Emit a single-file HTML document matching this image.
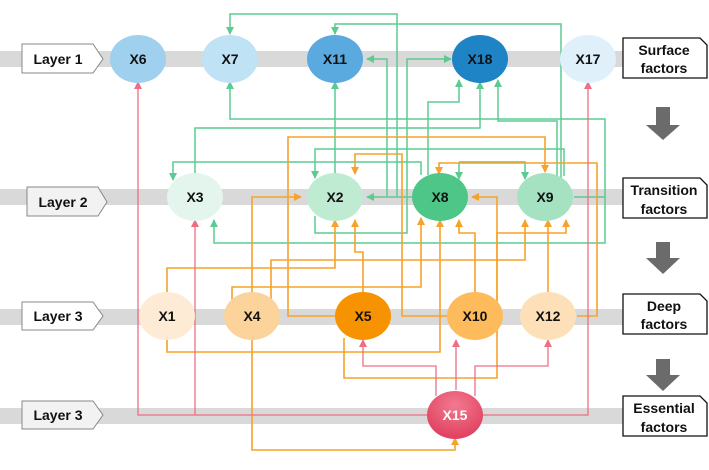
<!DOCTYPE html>
<html><head><meta charset="utf-8"><style>
body{margin:0;background:#fff}
svg{display:block}
text{font-family:"Liberation Sans Narrow","Liberation Sans",sans-serif;font-weight:bold;font-size:14px;text-anchor:middle;dominant-baseline:central;fill:#111}
.g{stroke:#5ccb92;fill:none;stroke-width:1.5}
.o{stroke:#f7a22a;fill:none;stroke-width:1.6}
.r{stroke:#ef6f82;fill:none;stroke-width:1.3}
</style></head><body>
<svg width="709" height="470" viewBox="0 0 709 470">
<defs>
<marker id="ag" markerWidth="8" markerHeight="8" refX="7" refY="4" orient="auto" markerUnits="userSpaceOnUse"><path d="M0,0 L8,4 L0,8z" fill="#5ccb92"/></marker>
<marker id="ao" markerWidth="8" markerHeight="8" refX="7" refY="4" orient="auto" markerUnits="userSpaceOnUse"><path d="M0,0 L8,4 L0,8z" fill="#f7a22a"/></marker>
<marker id="ar" markerWidth="8" markerHeight="8" refX="7" refY="4" orient="auto" markerUnits="userSpaceOnUse"><path d="M0,0 L8,4 L0,8z" fill="#ef6f82"/></marker>
<radialGradient id="rg" cx="0.5" cy="0.3" r="0.7"><stop offset="0" stop-color="#f27a90"/><stop offset="1" stop-color="#e03f5e"/></radialGradient>
</defs>
<!-- bands -->
<rect x="0" y="51" width="625" height="16" fill="#d9d9d9"/>
<rect x="0" y="189" width="625" height="16" fill="#d9d9d9"/>
<rect x="0" y="309" width="625" height="16" fill="#d9d9d9"/>
<rect x="0" y="408" width="625" height="16" fill="#d9d9d9"/>
<!-- left labels -->
<g stroke="#888" stroke-width="1">
<path d="M22,44 H93 L103,59 L93,73 H22z" fill="#fff"/>
<path d="M27,187 H98 L107,202 L98,216 H27z" fill="#f2f2f2"/>
<path d="M22,302 H93 L103,316 L93,330 H22z" fill="#fff"/>
<path d="M22,401 H93 L103,415 L93,429 H22z" fill="#f2f2f2"/>
</g>
<text x="58" y="59">Layer 1</text>
<text x="63" y="202">Layer 2</text>
<text x="58" y="316">Layer 3</text>
<text x="58" y="415">Layer 3</text>
<!-- right labels -->
<g stroke="#111" stroke-width="1.3" fill="#fff">
<path d="M623,38 H700 L707,45 V78 H623z"/>
<path d="M623,178 H700 L707,185 V218 H623z"/>
<path d="M623,294 H700 L707,301 V334 H623z"/>
<path d="M623,396 H700 L707,403 V436 H623z"/>
</g>
<text x="664" y="50">Surface</text><text x="664" y="68">factors</text>
<text x="664" y="190">Transition</text><text x="664" y="209">factors</text>
<text x="664" y="306">Deep</text><text x="664" y="324">factors</text>
<text x="664" y="408">Essential</text><text x="664" y="427">factors</text>
<!-- gray arrows -->
<g fill="#6b6b6b">
<path d="M656,107 H670 V125 H680 L663,140 L646,125 H656z"/>
<path d="M656,242 H670 V258 H680 L663,274 L646,258 H656z"/>
<path d="M656,359 H670 V375 H680 L663,391 L646,375 H656z"/>
</g>
<!-- green -->
<path class="g" d="M397,196 V14 H230 V34" marker-end="url(#ag)"/>
<path class="g" d="M387,196 V59 H367" marker-end="url(#ag)"/>
<path class="g" d="M412,197 H367" marker-end="url(#ag)"/>
<path class="g" d="M561,182 V24 H335 V34" marker-end="url(#ag)"/>
<path class="g" d="M564,176 V149 H315 V178" marker-end="url(#ag)"/>
<path class="g" d="M315,216 V233 H407 V59 H451" marker-end="url(#ag)"/>
<path class="g" d="M428,175 V102 H459 V80" marker-end="url(#ag)"/>
<path class="g" d="M195,175 V128 H480 V82" marker-end="url(#ag)"/>
<path class="g" d="M574,197 H605 V119 H230 V82" marker-end="url(#ag)"/>
<path class="g" d="M605,197 V243 H214 V220" marker-end="url(#ag)"/>
<path class="g" d="M557,178 V121 H498 V80" marker-end="url(#ag)"/>
<path class="g" d="M421,175 V162 H173 V180" marker-end="url(#ag)"/>
<path class="g" d="M459,162 V179" marker-end="url(#ag)"/>
<path class="g" d="M459,162 H525 V179" marker-end="url(#ag)"/>
<path class="g" d="M335,175 V82" marker-end="url(#ag)"/>
<!-- orange -->
<path class="o" d="M335,316 H288 V137 H545 V172" marker-end="url(#ao)"/>
<path class="o" d="M448,316 H402 V154 H355 V174" marker-end="url(#ao)"/>
<path class="o" d="M577,316 H597 V163 H439 V174" marker-end="url(#ao)"/>
<path class="o" d="M252,295 V197 H301" marker-end="url(#ao)"/>
<path class="o" d="M497,300 V197 H472" marker-end="url(#ao)"/>
<path class="o" d="M167,294 V268 H335 V220" marker-end="url(#ao)"/>
<path class="o" d="M363,292 V252 H355 V220" marker-end="url(#ao)"/>
<path class="o" d="M232,300 V287 H421 V218" marker-end="url(#ao)"/>
<path class="o" d="M167,338 V352 H440 V220" marker-end="url(#ao)"/>
<path class="o" d="M475,292 V233 H459 V220" marker-end="url(#ao)"/>
<path class="o" d="M271,300 V260 H525 V220" marker-end="url(#ao)"/>
<path class="o" d="M548,292 V220" marker-end="url(#ao)"/>
<path class="o" d="M344,338 V378 H497 V233 H566 V220" marker-end="url(#ao)"/>
<path class="o" d="M252,338 V450 H455 V438" marker-end="url(#ao)"/>
<!-- red -->
<path class="r" d="M430,415 H138 V82" marker-end="url(#ar)"/>
<path class="r" d="M195,415 V220" marker-end="url(#ar)"/>
<path class="r" d="M480,415 H588 V82" marker-end="url(#ar)"/>
<path class="r" d="M436,396 V366 H363 V340" marker-end="url(#ar)"/>
<path class="r" d="M456,390 V340" marker-end="url(#ar)"/>
<path class="r" d="M475,396 V366 H548 V340" marker-end="url(#ar)"/>
<!-- nodes -->
<g>
<ellipse cx="138" cy="59" rx="28" ry="24" fill="#9fd0ee"/><text x="138" y="59">X6</text>
<ellipse cx="230" cy="59" rx="28" ry="24" fill="#bfe2f5"/><text x="230" y="59">X7</text>
<ellipse cx="335" cy="59" rx="28" ry="24" fill="#5aa9df"/><text x="335" y="59">X11</text>
<ellipse cx="480" cy="59" rx="28" ry="24" fill="#1e84c6"/><text x="480" y="59">X18</text>
<ellipse cx="588" cy="59" rx="28" ry="24" fill="#dff0fb"/><text x="588" y="59">X17</text>
<ellipse cx="195" cy="197" rx="28" ry="24" fill="#e3f5ec"/><text x="195" y="197">X3</text>
<ellipse cx="335" cy="197" rx="28" ry="24" fill="#c0ebd3"/><text x="335" y="197">X2</text>
<ellipse cx="440" cy="197" rx="28" ry="24" fill="#4dc688"/><text x="440" y="197">X8</text>
<ellipse cx="545" cy="197" rx="28" ry="24" fill="#a4e2c2"/><text x="545" y="197">X9</text>
<ellipse cx="167" cy="316" rx="28" ry="24" fill="#fdebd6"/><text x="167" y="316">X1</text>
<ellipse cx="252" cy="316" rx="28" ry="24" fill="#fbd39b"/><text x="252" y="316">X4</text>
<ellipse cx="363" cy="316" rx="28" ry="24" fill="#f79300"/><text x="363" y="316">X5</text>
<ellipse cx="475" cy="316" rx="28" ry="24" fill="#fdbb5c"/><text x="475" y="316">X10</text>
<ellipse cx="548" cy="316" rx="28" ry="24" fill="#fde0b8"/><text x="548" y="316">X12</text>
<ellipse cx="455" cy="415" rx="28" ry="24" fill="url(#rg)"/><text x="455" y="415" style="fill:#fff">X15</text>
</g>
</svg>
</body></html>
